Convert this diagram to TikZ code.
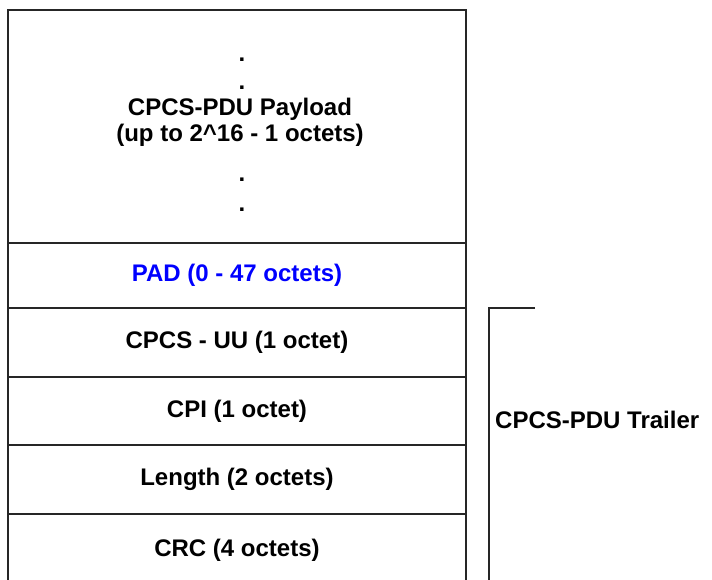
\documentclass[tikz,border=0pt]{standalone}
\usepackage{fontspec}
\setmainfont{Liberation Sans}
\usetikzlibrary{positioning}

\begin{document}
\begin{tikzpicture}[
  x=1pt,y=-1pt,
  pdu_field/.style={
    draw=black!85,line width=1.3pt,minimum width=458pt,outer sep=0pt,
    inner sep=0pt,font=\fontsize{24}{26}\selectfont\bfseries
  },
  pad_field/.style={
    pdu_field,text=blue
  },
  payload_dot/.style={
    font=\fontsize{24}{26}\selectfont\bfseries,inner sep=0pt
  }]
  %
  \useasboundingbox (0,0) rectangle (712,580);
  \node[pdu_field,minimum height=233pt,anchor=north] (payload) at (237,10) {};
  \node[pad_field,minimum height=65pt,below=0pt of payload] (pad) {PAD (0 - 47 octets)};
  \node[pdu_field,minimum height=69pt,below=0pt of pad] (uu) {CPCS - UU (1 octet)};
  \node[pdu_field,minimum height=68pt,below=0pt of uu] (cpi) {CPI (1 octet)};
  \node[pdu_field,minimum height=69pt,below=0pt of cpi] (length) {Length (2 octets)};
  \node[pdu_field,minimum height=72pt,below=0pt of length] (crc) {CRC (4 octets)};
  %
  \node[payload_dot,align=center] (payload_text) at (240,122)
    {CPCS-PDU Payload\\(up to 2\^{}16 - 1 octets)};
  \foreach \y in {60,88,180,210} {
    \node[payload_dot] (dot_\y) at (242,\y) {.};
  }
  %
  \coordinate (trailer_tick) at (535,308);
  \coordinate (trailer_corner) at (489,308);
  \coordinate (trailer_end) at (489,590);
  \draw[black!85,line width=1.3pt] (trailer_tick) -- (trailer_corner) -- (trailer_end);
  \node[payload_dot,anchor=west] (trailer) at (495,420) {CPCS-PDU Trailer};
\end{tikzpicture}
\end{document}
